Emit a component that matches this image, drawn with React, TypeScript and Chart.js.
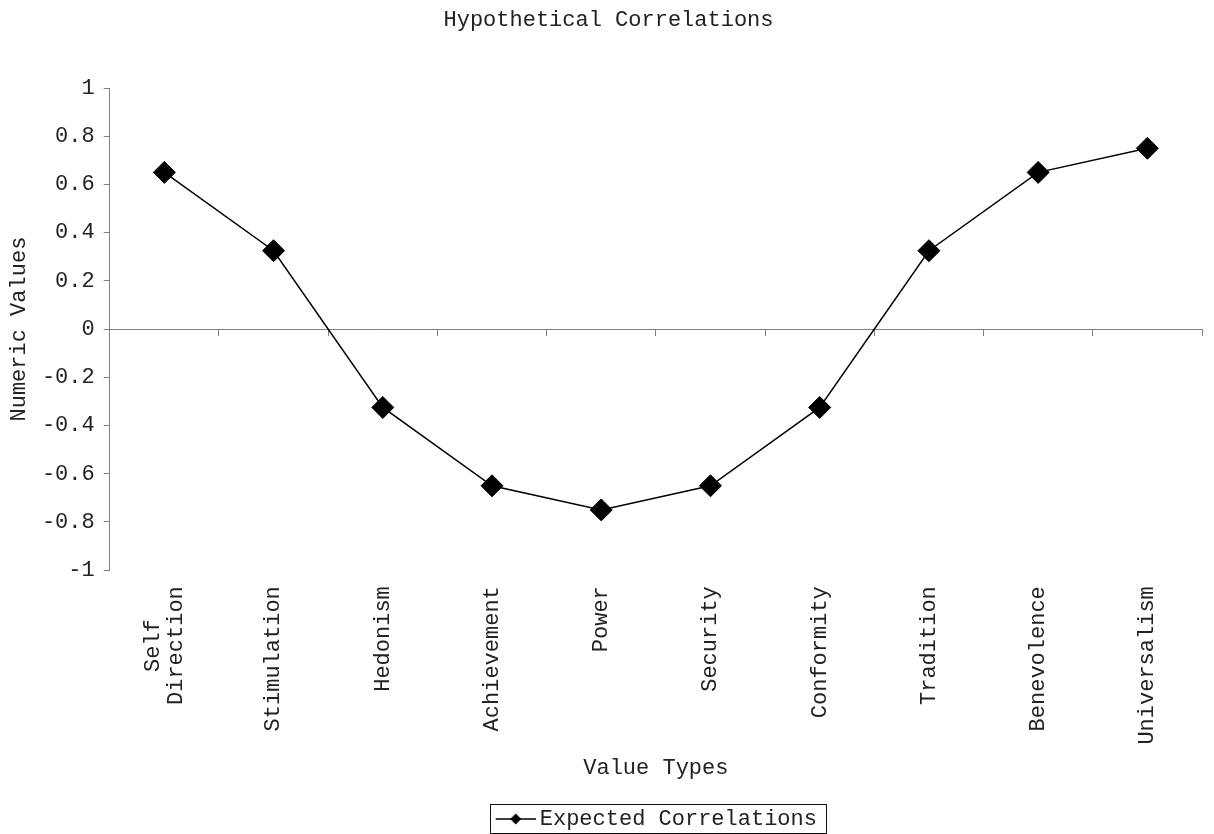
import { useEffect, useRef } from "react";
import { Chart, registerables } from "chart.js";

Chart.register(...registerables);

// Value types along the horizontal axis (multi-line labels are arrays)
const valueTypes: (string | string[])[] = [
  ["Self", "Direction"],
  "Stimulation",
  "Hedonism",
  "Achievement",
  "Power",
  "Security",
  "Conformity",
  "Tradition",
  "Benevolence",
  "Universalism",
];

// Expected correlation for each value type
const expectedCorrelations = [0.65, 0.325, -0.325, -0.65, -0.75, -0.65, -0.325, 0.325, 0.65, 0.75];

// Vertical axis ticks
const yTickValues = [-1, -0.8, -0.6, -0.4, -0.2, 0, 0.2, 0.4, 0.6, 0.8, 1];

const FONT = "'Courier New', 'Liberation Mono', monospace";
const FONT_SIZE = 22;
const AXIS_GRAY = "#808080";
const TEXT = "#222";
const LABEL_PAD = 16;

// Small line-with-diamond swatch used as the legend marker
function makeLegendSwatch(): HTMLCanvasElement {
  const c = document.createElement("canvas");
  c.width = 48;
  c.height = 14;
  const g = c.getContext("2d")!;
  g.strokeStyle = "#000";
  g.lineWidth = 1.5;
  g.beginPath();
  g.moveTo(8, 7);
  g.lineTo(48, 7);
  g.stroke();
  g.fillStyle = "#000";
  g.beginPath();
  g.moveTo(28, 1.5);
  g.lineTo(33.5, 7);
  g.lineTo(28, 12.5);
  g.lineTo(22.5, 7);
  g.closePath();
  g.fill();
  return c;
}

// Draws a thin frame around the legend entry
const legendFrame = {
  id: "legendFrame",
  afterDraw(chart: any) {
    const lg = chart.legend;
    if (!lg || !lg.legendHitBoxes || !lg.legendHitBoxes.length) return;
    const hb = lg.legendHitBoxes[0];
    const ctx = chart.ctx;
    const x0 = Math.round(hb.left - 5) + 0.5;
    const x1 = Math.round(hb.left + hb.width + 9) + 0.5;
    const y0 = Math.round(lg.top) + 0.5;
    const y1 = Math.min(Math.round(lg.bottom), chart.height) - 0.5;
    ctx.save();
    ctx.strokeStyle = "#111";
    ctx.lineWidth = 1;
    ctx.strokeRect(x0, y0, x1 - x0, y1 - y0);
    ctx.restore();
  },
};

// Vertical category labels: lines centred on each other, block centred on the category
const valueTypeLabels = {
  id: "valueTypeLabels",
  afterDraw(chart: any) {
    const sc = chart.scales.x2;
    if (!sc) return;
    const ctx = chart.ctx;
    const labels: (string | string[])[] = chart.data.labels;
    const lineH = 23;
    ctx.save();
    ctx.font = `${FONT_SIZE}px ${FONT}`;
    ctx.fillStyle = TEXT;
    ctx.textAlign = "center";
    ctx.textBaseline = "middle";
    labels.forEach((lab, i) => {
      const lines = Array.isArray(lab) ? lab : [lab];
      const maxW = Math.max(...lines.map((l) => ctx.measureText(l).width));
      const x = sc.getPixelForTick(i);
      const yMid = sc.top + LABEL_PAD + maxW / 2;
      lines.forEach((ln, j) => {
        const lx = x + (j - (lines.length - 1) / 2) * lineH;
        ctx.save();
        ctx.translate(lx, yMid);
        ctx.rotate(-Math.PI / 2);
        ctx.fillText(ln, 0, 0);
        ctx.restore();
      });
    });
    ctx.restore();
  },
};

export default function App() {
  const canvasRef = useRef<HTMLCanvasElement | null>(null);

  useEffect(() => {
    if (!canvasRef.current) return;
    const swatch = makeLegendSwatch();
    const chart = new Chart(canvasRef.current, {
      type: "line",
      data: {
        labels: valueTypes,
        datasets: [
          {
            label: "Expected Correlations",
            data: expectedCorrelations,
            borderColor: "#000",
            backgroundColor: "#000",
            borderWidth: 1.5,
            pointStyle: "rectRot",
            pointRadius: 11,
            pointHoverRadius: 11,
            pointBackgroundColor: "#000",
            pointBorderColor: "#000",
            pointBorderWidth: 1,
            tension: 0,
            fill: false,
            xAxisID: "x",
            yAxisID: "y",
          },
        ],
      },
      options: {
        animation: false,
        responsive: true,
        maintainAspectRatio: false,
        layout: { padding: { left: 6, right: 3, top: 0, bottom: -6 } },
        plugins: {
          title: {
            display: true,
            text: "Hypothetical Correlations",
            color: TEXT,
            font: { family: FONT, size: FONT_SIZE, weight: "normal" },
            padding: { top: 7, bottom: 54.6 },
          },
          legend: {
            display: true,
            position: "bottom",
            fullSize: false,
            labels: {
              usePointStyle: true,
              pointStyle: swatch as any,
              pointStyleWidth: 34,
              padding: 4,
              color: TEXT,
              font: { family: FONT, size: FONT_SIZE },
            },
          },
          tooltip: { enabled: false },
        },
        scales: {
          // axis line drawn through zero with tick marks between categories
          x: {
            type: "category",
            position: { y: 0 } as any,
            offset: true,
            grid: {
              display: true,
              drawOnChartArea: false,
              drawTicks: true,
              tickLength: 6,
              color: AXIS_GRAY,
              offset: true,
            },
            border: { display: true, color: AXIS_GRAY, width: 1 },
            ticks: { display: false },
          },
          // reserves room for the category labels and carries the axis title
          x2: {
            type: "category",
            position: "bottom",
            offset: true,
            grid: { display: false, drawTicks: false },
            border: { display: false },
            ticks: {
              autoSkip: false,
              minRotation: 90,
              maxRotation: 90,
              padding: LABEL_PAD,
              color: "rgba(0,0,0,0)",
              font: { family: FONT, size: FONT_SIZE },
            },
            title: {
              display: true,
              text: "Value Types",
              color: TEXT,
              font: { family: FONT, size: FONT_SIZE },
              padding: { top: -6, bottom: 23 },
            },
          },
          y: {
            type: "linear",
            position: "left",
            min: -1,
            max: 1,
            afterBuildTicks: (scale: any) => {
              scale.ticks = yTickValues.map((v) => ({ value: v }));
            },
            grid: {
              display: true,
              drawOnChartArea: false,
              drawTicks: true,
              tickLength: 6,
              color: AXIS_GRAY,
            },
            border: { display: true, color: AXIS_GRAY, width: 1 },
            ticks: {
              padding: 9,
              color: TEXT,
              font: { family: FONT, size: FONT_SIZE },
              callback: (v: any) => String(Math.round(Number(v) * 10) / 10),
            },
            title: {
              display: true,
              text: "Numeric Values",
              color: TEXT,
              font: { family: FONT, size: FONT_SIZE },
              padding: { top: 0, bottom: 0.5 },
            },
          },
        },
      },
      plugins: [legendFrame, valueTypeLabels],
    });
    return () => chart.destroy();
  }, []);

  return (
    <div style={{ position: "absolute", left: 0, top: 0, width: 1214, height: 834, background: "#fff" }}>
      <canvas ref={canvasRef} />
    </div>
  );
}
